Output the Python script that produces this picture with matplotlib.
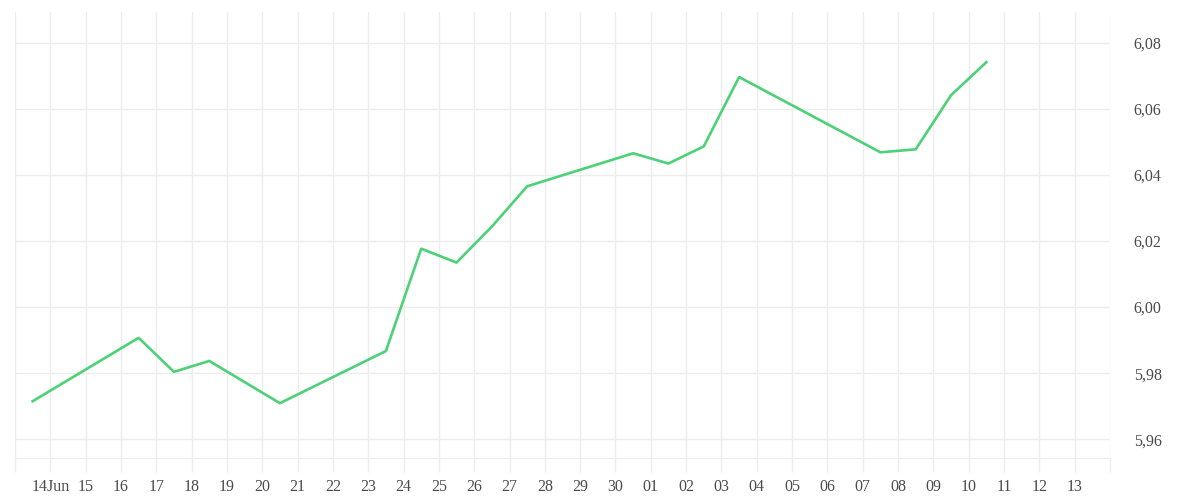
import datetime as dt
import matplotlib
matplotlib.use("Agg")
import matplotlib.pyplot as plt
from matplotlib.ticker import FuncFormatter

# ====== データ ======
dates = ["2025-06-13", "2025-06-16", "2025-06-17", "2025-06-18", "2025-06-20",
         "2025-06-23", "2025-06-24", "2025-06-25", "2025-06-26", "2025-06-27",
         "2025-06-30", "2025-07-01", "2025-07-02", "2025-07-03", "2025-07-07",
         "2025-07-08", "2025-07-09", "2025-07-10"]
values = [5.9715, 5.9907, 5.9804, 5.9837, 5.9709,
          5.9867, 6.0177, 6.0135, 6.0244, 6.0366,
          6.0466, 6.0435, 6.0487, 6.0697, 6.0469,
          6.0478, 6.0642, 6.0742]
y_ticks = [5.96, 5.98, 6.00, 6.02, 6.04, 6.06, 6.08]

x = [dt.datetime.strptime(d, "%Y-%m-%d") + dt.timedelta(hours=12) for d in dates]

grid_c = "#ededed"
text_c = "#4a4a4a"
plt.rcParams["font.family"] = ["Liberation Serif", "DejaVu Serif"]

fig = plt.figure(figsize=(12, 5), dpi=100)
ax = fig.add_axes([15 / 1200, 42 / 500, 1095 / 1200, 446 / 500])

ax.plot(x, values, color="#4cd177", lw=1.9)

start = dt.datetime(2025, 6, 13)
end = dt.datetime(2025, 7, 14)
ax.set_xlim(start, end)
ax.set_ylim(5.9543, 6.0894)

# x軸の目盛り
days = [start + dt.timedelta(days=i) for i in range((end - start).days + 1)]
labels = []
for d in days:
    if d == start or d == end:
        labels.append("")
    elif d.month == 6 and d.day == 14:
        labels.append("14Jun")
    else:
        labels.append(d.strftime("%d"))
ax.set_xticks(days)
ax.set_xticklabels(labels)

ax.set_yticks(y_ticks)
ax.yaxis.set_major_formatter(FuncFormatter(lambda v, p: f"{v:.2f}".replace(".", ",")))
ax.yaxis.tick_right()

ax.grid(True, color=grid_c, lw=1)
ax.tick_params(axis="x", length=10, width=1, color=grid_c, labelcolor=text_c,
               labelsize=11.5, pad=5)
ax.tick_params(axis="y", length=0, labelcolor=text_c, labelsize=11.5, pad=17)

for s in ["top", "left", "right"]:
    ax.spines[s].set_visible(False)
ax.spines["bottom"].set_color(grid_c)

fig.savefig("out.png", dpi=100)
